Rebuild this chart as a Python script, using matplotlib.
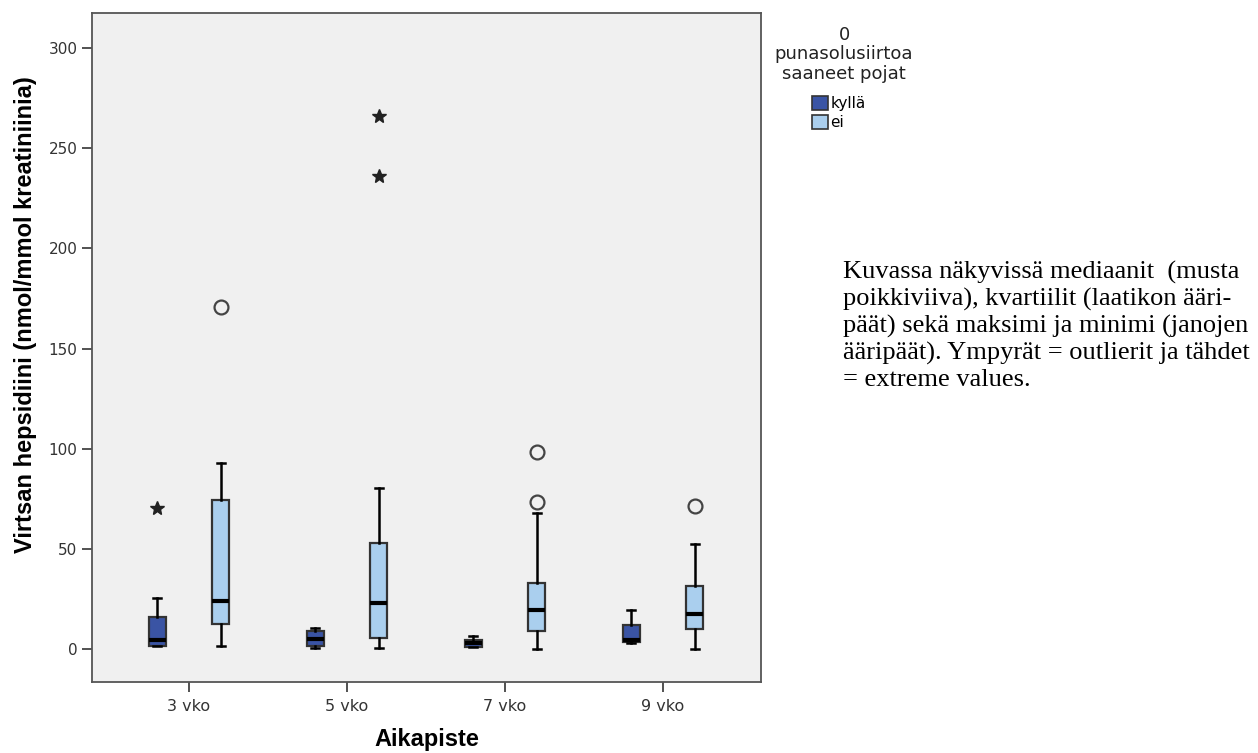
import numpy as np
import matplotlib.pyplot as plt
from matplotlib.patches import Patch

#---------------------------------------------------- data
aikapisteet = ["3 vko", "5 vko", "7 vko", "9 vko"]
ryhmat = ["kyllä", "ei"]

# [whislo, q1, med, q3, whishi] per timepoint
kylla_stats = [[1.5, 1.6, 4.5, 16.0, 25.7],
               [0.8, 1.6, 5.3, 9.1, 10.3],
               [1.0, 1.2, 3.0, 4.6, 6.8],
               [3.0, 3.6, 4.8, 12.0, 19.3]]
ei_stats = [[1.6, 12.5, 23.8, 74.2, 92.8],
            [0.7, 5.8, 22.8, 52.8, 80.2],
            [0.0, 9.1, 19.6, 33.0, 68.1],
            [0.2, 10.0, 17.4, 31.4, 52.3]]

# outlierit (ympyrät) ja extreme values (tähdet)
kylla_outlierit = [[], [], [], []]
kylla_extreme = [[70.4], [], [], []]
ei_outlierit = [[170.9], [], [73.4, 98.3], [71.3]]
ei_extreme = [[], [266.0, 236.2], [], []]

#---------------------------------------------------- tyylit
vari_kylla = "#3a54a4"
vari_ei = "#aacfee"
tausta = "#f0f0f0"
offset = 0.2
leveys = 0.105

fig = plt.figure(figsize=(12.58, 7.53), dpi=100)
ax = fig.add_axes([92 / 1258, 1 - 682 / 753, 669 / 1258, 669 / 753])
ax.set_facecolor(tausta)

def tee_statsit(stats, outl):
    lista = []
    for s, o in zip(stats, outl):
        lista.append(dict(whislo=s[0], q1=s[1], med=s[2], q3=s[3], whishi=s[4], fliers=o))
    return lista

x = np.arange(len(aikapisteet))
for stats, outl, ext, vari, siirto in [(kylla_stats, kylla_outlierit, kylla_extreme, vari_kylla, -offset),
                                        (ei_stats, ei_outlierit, ei_extreme, vari_ei, offset)]:
    ax.bxp(tee_statsit(stats, outl), positions=x + siirto, widths=leveys,
           patch_artist=True, manage_ticks=False,
           boxprops=dict(facecolor=vari, edgecolor="#333333", linewidth=1.6),
           medianprops=dict(color="black", linewidth=3),
           whiskerprops=dict(color="black", linewidth=1.8),
           capprops=dict(color="black", linewidth=1.8),
           capwidths=0.05,
           flierprops=dict(marker="o", markerfacecolor="none", markeredgecolor="#444444",
                           markersize=10, markeredgewidth=1.6))
    for i, e in enumerate(ext):
        if e:
            ax.plot([x[i] + siirto] * len(e), e, linestyle="none", marker="*",
                    color="#222222", markersize=10)

ax.set_xlim(-0.614, 3.62)
ax.set_ylim(-16.4, 317.4)
ax.set_xticks(x)
ax.set_xticklabels(aikapisteet, fontsize=11.5, color="#333333")
ax.set_yticks([0, 50, 100, 150, 200, 250, 300])
ax.tick_params(axis="y", labelsize=11, labelcolor="#333333", length=7, width=1.2, color="#333333")
ax.tick_params(axis="x", length=7, width=1.2, color="#333333", pad=5)
for s in ax.spines.values():
    s.set_color("#555555")
    s.set_linewidth(1.3)

ax.set_xlabel("Aikapiste", fontsize=17, fontweight="bold", family="Liberation Sans", labelpad=10)
ax.set_ylabel("Virtsan hepsidiini (nmol/mmol kreatiniinia)", fontsize=17, fontweight="bold",
              family="Liberation Sans")
ax.yaxis.set_label_coords(-0.082, 0.549)

#---------------------------------------------------- legenda
fig.text(844 / 1258, 1 - 26 / 753, "0\npunasolusiirtoa\nsaaneet pojat", ha="center", va="top",
         fontsize=13, color="#222222", linespacing=1.1)
kahvat = [Patch(facecolor=vari_kylla, edgecolor="#333333", linewidth=1.2),
          Patch(facecolor=vari_ei, edgecolor="#333333", linewidth=1.2)]
leg = fig.legend(kahvat, ryhmat, loc="upper left", bbox_to_anchor=(812 / 1258, 1 - 96 / 753),
                 frameon=False, fontsize=11, handlelength=1.05, handleheight=1.0,
                 handletextpad=0.15, labelspacing=0.25, borderpad=0.0, borderaxespad=0.0)

#---------------------------------------------------- selitys
selitys = ("Kuvassa näkyvissä mediaanit  (musta\n"
           "poikkiviiva), kvartiilit (laatikon ääri-\n"
           "päät) sekä maksimi ja minimi (janojen\n"
           "ääripäät). Ympyrät = outlierit ja tähdet\n"
           "= extreme values.")
fig.text(843 / 1258, 1 - 261 / 753, selitys, fontsize=19, family="Liberation Serif",
         va="top", ha="left", linespacing=1.22)

plt.savefig("out.png", dpi=100)
